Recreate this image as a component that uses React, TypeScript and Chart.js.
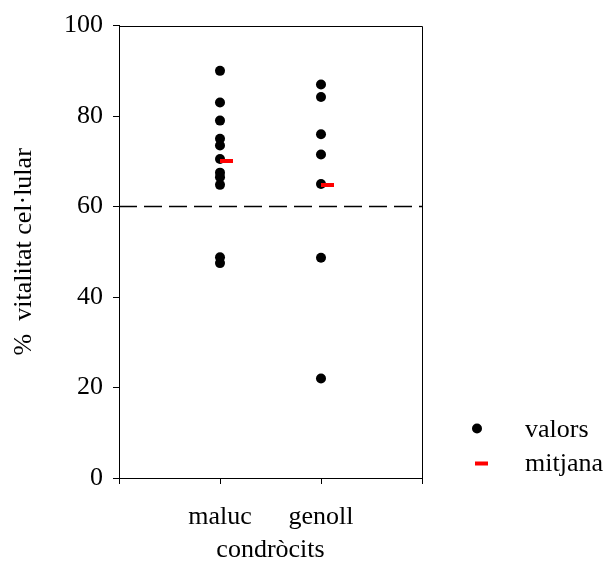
import React, { useEffect, useRef } from 'react';
import { Chart, registerables } from 'chart.js';

Chart.register(...registerables);

const categories = ['maluc', 'genoll'];
const malucValues = [90, 83, 79, 75, 73.5, 70.5, 67.5, 66.5, 64.8, 48.8, 47.5];
const genollValues = [87, 84.2, 76, 71.5, 65, 48.7, 22];
const meanValues = [70, 64.8];
const thresholdValue = 60;
const yTicks = [0, 20, 40, 60, 80, 100];
const xRange = [0, 3];
const legendLabels = ['valors', 'mitjana'];
const xTitle = 'condròcits';
const yTitle = '%  vitalitat cel·lular';

const FONT = "'Liberation Serif', 'Times New Roman', Times, serif";
const FS = 26;

export default function App() {
  const ref = useRef<HTMLCanvasElement>(null);

  useEffect(() => {
    if (!ref.current) return;

    const meanMark = document.createElement('canvas');
    meanMark.width = 26;
    meanMark.height = 4;
    const mctx = meanMark.getContext('2d')!;
    mctx.fillStyle = '#ff0000';
    mctx.fillRect(13, 0, 13, 4);

    const valuePoints = [
      ...malucValues.map((v) => ({ x: 1, y: v })),
      ...genollValues.map((v) => ({ x: 2, y: v })),
    ];
    const meanPoints = meanValues.map((v, i) => ({ x: i + 1, y: v }));

    const framePlugin = {
      id: 'frame',
      beforeDatasetsDraw(chart: any) {
        const { ctx, chartArea } = chart;
        ctx.save();
        ctx.strokeStyle = '#000';
        ctx.lineWidth = 1;
        ctx.beginPath();
        ctx.moveTo(chartArea.left, Math.round(chartArea.top) + 0.5);
        ctx.lineTo(Math.round(chartArea.right) + 0.5, Math.round(chartArea.top) + 0.5);
        ctx.lineTo(Math.round(chartArea.right) + 0.5, chartArea.bottom);
        ctx.stroke();
        ctx.restore();
      },
    };

    const legendPlugin = {
      id: 'customLegend',
      afterDraw(chart: any) {
        const { ctx } = chart;
        ctx.save();
        ctx.fillStyle = '#000';
        ctx.beginPath();
        ctx.arc(477, 428.5, 5, 0, Math.PI * 2);
        ctx.fill();
        ctx.fillStyle = '#ff0000';
        ctx.fillRect(475, 461.5, 13, 4);
        ctx.fillStyle = '#000';
        ctx.font = `${FS}px ${FONT}`;
        ctx.textAlign = 'left';
        ctx.textBaseline = 'alphabetic';
        ctx.fillText(legendLabels[0], 525, 437);
        ctx.fillText(legendLabels[1], 525, 471);
        ctx.restore();
      },
    };

    const chart = new Chart(ref.current, {
      type: 'scatter',
      data: {
        datasets: [
          {
            label: legendLabels[1],
            data: meanPoints,
            pointStyle: meanMark as any,
            pointRadius: 6,
            backgroundColor: '#ff0000',
            borderColor: '#ff0000',
          },
          {
            label: legendLabels[0],
            data: valuePoints,
            pointStyle: 'circle',
            pointRadius: 5,
            backgroundColor: '#000',
            borderColor: '#000',
            borderWidth: 0,
          },
          {
            type: 'line' as any,
            label: 'llindar',
            data: xRange.map((x) => ({ x, y: thresholdValue })),
            borderColor: '#000',
            borderWidth: 1.5,
            borderDash: [18, 7],
            pointRadius: 0,
            fill: false,
          },
        ],
      },
      options: {
        animation: false,
        responsive: true,
        maintainAspectRatio: false,
        layout: { padding: { top: 25, right: 187, left: 0, bottom: 0 } },
        plugins: {
          legend: { display: false },
          tooltip: { enabled: false },
        },
        scales: {
          x: {
            type: 'linear',
            min: xRange[0],
            max: xRange[1],
            ticks: {
              stepSize: 1,
              autoSkip: false,
              maxRotation: 0,
              padding: 18,
              color: '#000',
              font: { family: FONT, size: FS },
              callback: (v: any) => categories[Number(v) - 1] ?? '',
            },
            grid: {
              drawOnChartArea: false,
              drawTicks: true,
              tickLength: 6,
              color: '#000',
            },
            border: { display: true, color: '#000', width: 1 },
            title: {
              display: true,
              text: xTitle,
              color: '#000',
              font: { family: FONT, size: FS, lineHeight: 1 },
              padding: { top: -6, bottom: 0 },
            },
            afterFit: (s: any) => {
              s.height = 85;
            },
          },
          y: {
            type: 'linear',
            min: yTicks[0],
            max: yTicks[yTicks.length - 1],
            afterBuildTicks: (s: any) => {
              s.ticks = yTicks.map((v) => ({ value: v }));
            },
            ticks: {
              padding: 10,
              color: '#000',
              font: { family: FONT, size: FS },
            },
            grid: {
              drawOnChartArea: false,
              drawTicks: true,
              tickLength: 6,
              color: '#000',
            },
            border: { display: true, color: '#000', width: 1 },
            title: {
              display: true,
              text: yTitle,
              color: '#000',
              font: { family: FONT, size: FS, lineHeight: 1 },
              padding: { top: 11, bottom: 0 },
            },
            afterFit: (s: any) => {
              s.width = 119;
            },
          },
        },
      },
      plugins: [framePlugin, legendPlugin],
    });

    return () => chart.destroy();
  }, []);

  return (
    <div style={{ position: 'fixed', left: 0, top: 0, width: 609, height: 563, background: '#fff' }}>
      <canvas ref={ref} />
    </div>
  );
}
